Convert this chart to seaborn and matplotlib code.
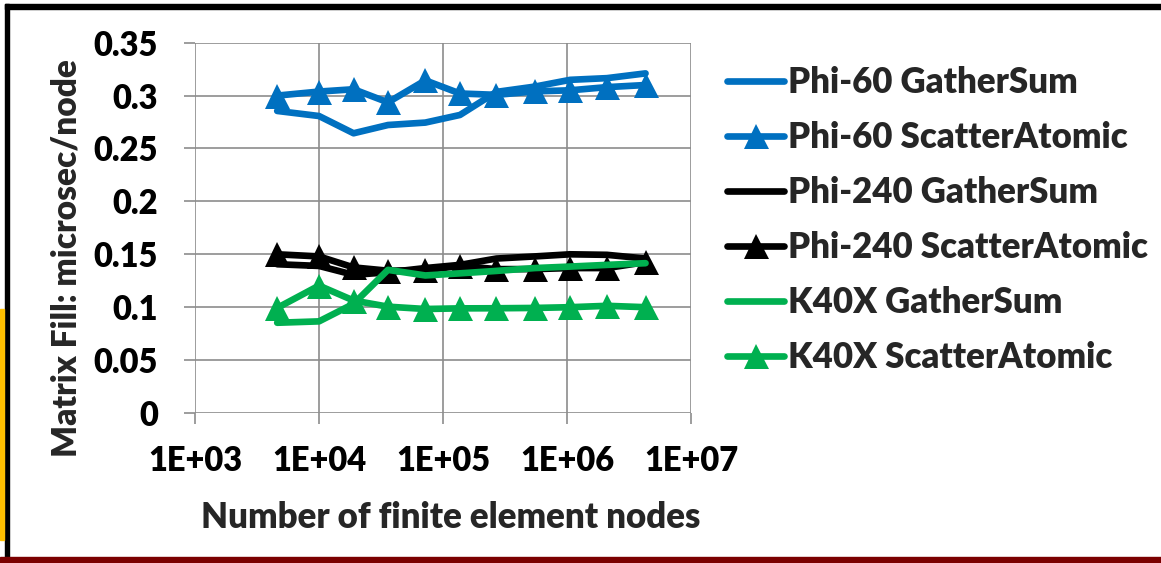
import matplotlib
matplotlib.use("Agg")
import matplotlib.pyplot as plt
import seaborn as sns
import numpy as np
import pandas as pd
from matplotlib.patches import Rectangle

# ---- data ----
nodes = [4.6e3, 1.0e4, 1.9e4, 3.6e4, 7.2e4, 1.37e5, 2.7e5, 5.5e5, 1.06e6, 2.1e6, 4.3e6]
phi60_gather = [0.2855, 0.2807, 0.2644, 0.2722, 0.2745, 0.2817, 0.3035, 0.3085, 0.3149, 0.3165, 0.321]
phi60_scatter = [0.300, 0.3038, 0.306, 0.2936, 0.3144, 0.302, 0.3007, 0.304, 0.305, 0.308, 0.310]
phi240_gather = [0.1406, 0.139, 0.1306, 0.133, 0.137, 0.140, 0.146, 0.148, 0.150, 0.1495, 0.146]
phi240_scatter = [0.150, 0.148, 0.1376, 0.1345, 0.135, 0.139, 0.136, 0.136, 0.137, 0.137, 0.1426]
k40x_gather = [0.0853, 0.0866, 0.1032, 0.1353, 0.130, 0.132, 0.1343, 0.137, 0.1384, 0.140, 0.1416]
k40x_scatter = [0.0993, 0.1204, 0.1063, 0.1005, 0.0983, 0.0989, 0.099, 0.0993, 0.100, 0.1013, 0.100]

series_names = ["Phi-60 GatherSum", "Phi-60 ScatterAtomic", "Phi-240 GatherSum",
                "Phi-240 ScatterAtomic", "K40X GatherSum", "K40X ScatterAtomic"]
series_values = [phi60_gather, phi60_scatter, phi240_gather, phi240_scatter, k40x_gather, k40x_scatter]
series_colors = ["#0070C0", "#0070C0", "#000000", "#000000", "#00B050", "#00B050"]
series_markers = [None, "^", None, "^", None, "^"]

xtick_vals = [1e3, 1e4, 1e5, 1e6, 1e7]
xtick_labels = ["1E+03", "1E+04", "1E+05", "1E+06", "1E+07"]
ytick_vals = [0, 0.05, 0.1, 0.15, 0.2, 0.25, 0.3, 0.35]
ytick_labels = ["0", "0.05", "0.1", "0.15", "0.2", "0.25", "0.3", "0.35"]

sns.set_theme(style="white")
plt.rcParams['font.family'] = ['Lato', 'DejaVu Sans']
WT = "heavy"
plt.rcParams['font.weight'] = WT

W, H = 1161, 563
fig = plt.figure(figsize=(W / 100, H / 100), dpi=100)
fig.patch.set_facecolor("white")

# slide decorations
fig.patches.append(Rectangle((4.5 / W, 0), 4.5 / W, 1 - 4 / H, transform=fig.transFigure,
                             color="black", zorder=0))
fig.patches.append(Rectangle((4.5 / W, 1 - 8.5 / H), 1, 4.5 / H, transform=fig.transFigure,
                             color="black", zorder=0))
fig.patches.append(Rectangle((0, 1 - 540 / H), 4 / W, (540 - 309) / H, transform=fig.transFigure,
                             color="#FFC000", zorder=0))
fig.patches.append(Rectangle((0, 0), 1, 6.5 / H, transform=fig.transFigure,
                             color="#7B0000", zorder=1))

ax = fig.add_axes([195 / W, 1 - 413 / H, (691 - 195) / W, (413 - 42.7) / H])

lw = 4.8
for name, vals, col, mk in zip(series_names, series_values, series_colors, series_markers):
    df = pd.DataFrame({"nodes": nodes, "val": vals})
    kw = dict(marker=mk, markersize=18, markeredgewidth=0) if mk else dict(marker=None)
    sns.lineplot(data=df, x="nodes", y="val", ax=ax, color=col, linewidth=lw,
                 label=name, solid_capstyle="round", solid_joinstyle="round", zorder=3, **kw)

ax.set_xscale("log")
ax.set_xlim(1e3, 1e7)
ax.set_ylim(0, 0.35)
ax.set_xticks(xtick_vals)
ax.set_xticklabels(xtick_labels)
ax.set_yticks(ytick_vals)
ax.set_yticklabels(ytick_labels)
ax.minorticks_off()

grid_col = "#8C8C8C"
ax.grid(True, color=grid_col, linewidth=1.2)
for s in ax.spines.values():
    s.set_visible(False)
ax.tick_params(axis="both", which="major", direction="out", length=8, width=1.2,
               color=grid_col, labelsize=23.5, labelcolor="black")
ax.tick_params(axis="y", pad=18.5, left=True)
ax.tick_params(axis="x", pad=15, bottom=True)
for t in ax.get_xticklabels() + ax.get_yticklabels():
    t.set_fontweight(WT)

ax.set_xlabel("Number of finite element nodes", fontsize=25, fontweight=WT, va="center")
ax.xaxis.set_label_coords((451 - 195) / 496, (413 - 518) / 370.3)
ax.set_ylabel("Matrix Fill: microsec/node", fontsize=24, fontweight=WT, va="center", ha="center")
ax.yaxis.set_label_coords((67 - 195) / 496, (413 - 258) / 370.3)

handles, labels = ax.get_legend_handles_labels()
ax.get_legend().remove()
leg = fig.legend(handles, labels, loc="upper left", bbox_to_anchor=(727 / W, 1 - 66 / H),
                 frameon=False, fontsize=25, handlelength=1.65, handletextpad=0.12,
                 labelspacing=0.635, borderpad=0, borderaxespad=0)
for t in leg.get_texts():
    t.set_fontweight(WT)

fig.savefig("out.png", dpi=100, facecolor="white")
